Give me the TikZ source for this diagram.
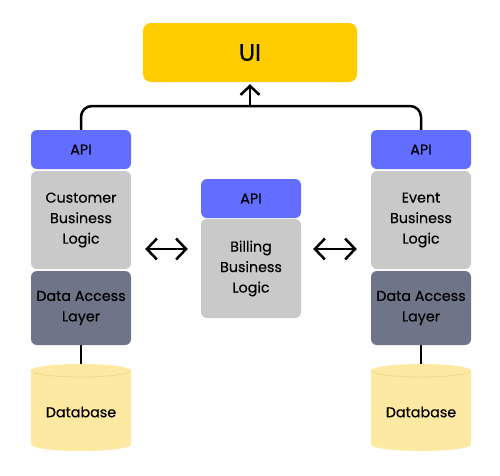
\documentclass[tikz,border=0pt]{standalone}
\usepackage{fontspec}
\setmainfont{Poppins}[FakeBold=0.35]
\usetikzlibrary{arrows.meta,calc}
\definecolor{uiyellow}{HTML}{FFCC00}
\definecolor{apiblue}{HTML}{626EFF}
\definecolor{blgray}{HTML}{C9C9C9}
\definecolor{dalgray}{HTML}{6F7588}
\definecolor{dbyellow}{HTML}{FDE9A1}
\definecolor{dbedge}{HTML}{EEDA8E}
\begin{document}
\begin{tikzpicture}[x=1pt,y=-1pt,
  box/.style={rectangle, rounded corners=6pt, minimum width=100pt, inner sep=0pt, align=center, font=\fontsize{14.3}{20.5}\selectfont},
  apibox/.style={box, fill=apiblue, minimum height=39pt},
  blbox/.style={box, fill=blgray, minimum height=98pt},
  dalbox/.style={box, fill=dalgray, minimum height=74pt},
  conn/.style={line width=2.5pt, black},
  chev/.style={conn, -{Straight Barb[length=9pt,width=19pt,line width=2.5pt]}},
  dblchev/.style={conn, {Straight Barb[length=10pt,width=21pt,line width=2.5pt]}-{Straight Barb[length=10pt,width=21pt,line width=2.5pt]}},
  dbtext/.style={font=\fontsize{14.3}{20}\selectfont}
]
\useasboundingbox[fill=white] (0,0) rectangle (500,475);
% UI
\node[box, fill=uiyellow, minimum width=214pt, minimum height=59pt, rounded corners=8pt, font=\fontsize{24}{28}\selectfont] (ui) at (250,52.5) {UI};
% left column
\node[apibox] (lapi) at (81,149.5) {API};
\node[blbox] (lbl) at (81,220) {Customer\\Business\\Logic};
\node[dalbox] (ldal) at (81,308) {Data Access\\Layer};
% middle
\node[apibox] (mapi) at (251,198.5) {API};
\node[blbox, minimum height=99pt] (bill) at (251,268.5) {Billing\\Business\\Logic};
% right column
\node[apibox] (rapi) at (421,149.5) {API};
\node[blbox] (rbl) at (421,220) {Event\\Business\\Logic};
\node[dalbox] (rdal) at (421,308) {Data Access\\Layer};
% databases
\foreach \cx/\nm in {81/ldb,421/rdb}{
  \fill[dbyellow] (\cx-50,370.5) -- (\cx-50,444.5) arc[start angle=180,end angle=360,x radius=50pt,y radius=6.5pt] -- (\cx+50,370.5) -- cycle;
  \fill[dbyellow] (\cx,370.5) ellipse[x radius=50pt,y radius=6.5pt];
  \draw[dbedge, line width=0.8pt] (\cx-50,370.5) arc[start angle=180,end angle=360,x radius=50pt,y radius=6.5pt];
  \coordinate (\nm top) at (\cx,364);
  \node[dbtext] (\nm) at (\cx,412) {Database};
}
% connectors
\coordinate (hy) at (0,106);
\coordinate (ay) at (0,249);
\draw[conn, rounded corners=11pt] (lapi.north) -- (lapi.north |- hy) -- (rapi.north |- hy) -- (rapi.north);
\draw[chev, shorten >=2pt] (ui.south |- hy) -- (ui.south);
\draw[conn] (ldal.south) -- (ldbtop);
\draw[conn] (rdal.south) -- (rdbtop);
\draw[dblchev, shorten <=14pt, shorten >=13pt] (lbl.east |- ay) -- (bill.west |- ay);
\draw[dblchev, shorten <=12pt, shorten >=14pt] (bill.east |- ay) -- (rbl.west |- ay);
\end{tikzpicture}
\end{document}
